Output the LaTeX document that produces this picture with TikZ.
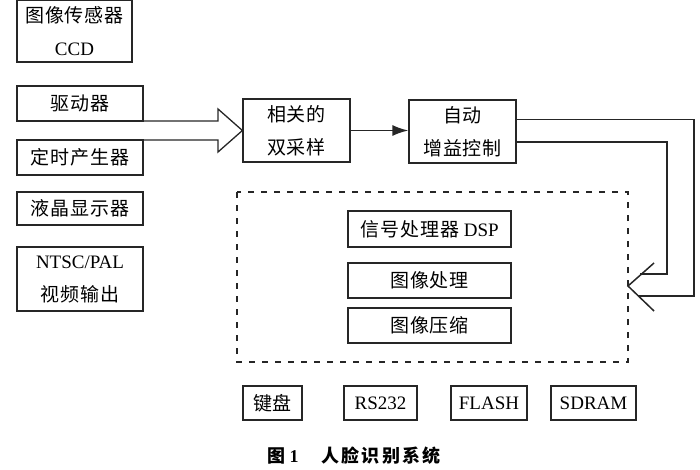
\documentclass[tikz,border=0pt]{standalone}
\usepackage{fontspec}
\setmainfont{Liberation Serif}
\newfontfamily\cjk[LetterSpace=5]{Noto Sans CJK SC}
\newfontfamily\cjkcap[LetterSpace=13]{Noto Sans CJK SC}
\newcommand{\zh}[1]{{\cjk #1}}
\usetikzlibrary{arrows.meta}
\tikzset{
bx/.style={draw=black!85,line width=1.2pt,inner sep=0pt,align=center,font=\fontsize{19}{33}\selectfont},
ln/.style={draw=black!85,line width=1.3pt}}
\newcommand{\bxat}[6]{\node[bx,minimum width={(#4-#2)*1pt},minimum height={(#5-#3)*1pt}] (#1) at ({(#2+#4)/2},{(#3+#5)/2}) {#6};}
\begin{document}
\begin{tikzpicture}[x=1pt,y=-1pt]
\useasboundingbox (0,0) rectangle (700,470);
\bxat{a}{17}{0}{132}{62}{\zh{图像传感器}\\CCD}
\bxat{b}{17}{86}{143}{121}{\zh{驱动器}}
\bxat{c}{17}{140}{143}{175}{\zh{定时产生器}}
\bxat{d}{17}{192}{143}{225}{\zh{液晶显示器}}
\bxat{e}{17}{247}{143}{311}{NTSC/PAL\\\zh{视频输出}}
\bxat{f}{243}{99}{350}{162}{\zh{相关的}\\\zh{双采样}}
\bxat{g}{409}{100}{516}{163}{\zh{自动}\\\zh{增益控制}}
\bxat{h}{348}{211}{511}{247}{\zh{信号处理器} DSP}
\bxat{i}{348}{263}{511}{298}{\zh{图像处理}}
\bxat{j}{348}{308}{511}{343}{\zh{图像压缩}}
\bxat{k}{243}{386}{302}{420}{\zh{键盘}}
\bxat{l}{344}{386}{417}{420}{RS232}
\bxat{m}{451}{386}{527}{420}{FLASH}
\bxat{n}{551}{386}{636}{420}{SDRAM}
\node[font=\fontsize{18}{20}\selectfont\bfseries] (cap) at (354,456) {{\cjkcap\bfseries 图} 1\quad\ {\cjkcap\bfseries 人脸识别系统}};
\draw[draw=black!85,dash pattern=on 6pt off 7pt,line width=1.3pt] (237,192) rectangle (628,362);
\coordinate (t1) at (143,121); \coordinate (t2) at (143,140);
\draw[ln] (t1) -- (218,121) -- (218,109) -- (f.west) -- (218,152) -- (218,140) -- (t2);
\draw[ln,line width=1.8pt,-{Latex[length=16pt,width=11pt]}] (f.east) -- (g.west |- f.east);
\coordinate (u) at (516,119.5); \coordinate (v) at (516,142);
\coordinate (p) at (628,286);
\draw[ln] (u) -- (694,119.5) -- (694,296) -- (638,296);
\draw[ln] (v) -- (667,142) -- (667,274) -- (640,274);
\draw[ln,line width=1.5pt] (654,263) -- (p) -- (654,311);
\end{tikzpicture}
\end{document}
